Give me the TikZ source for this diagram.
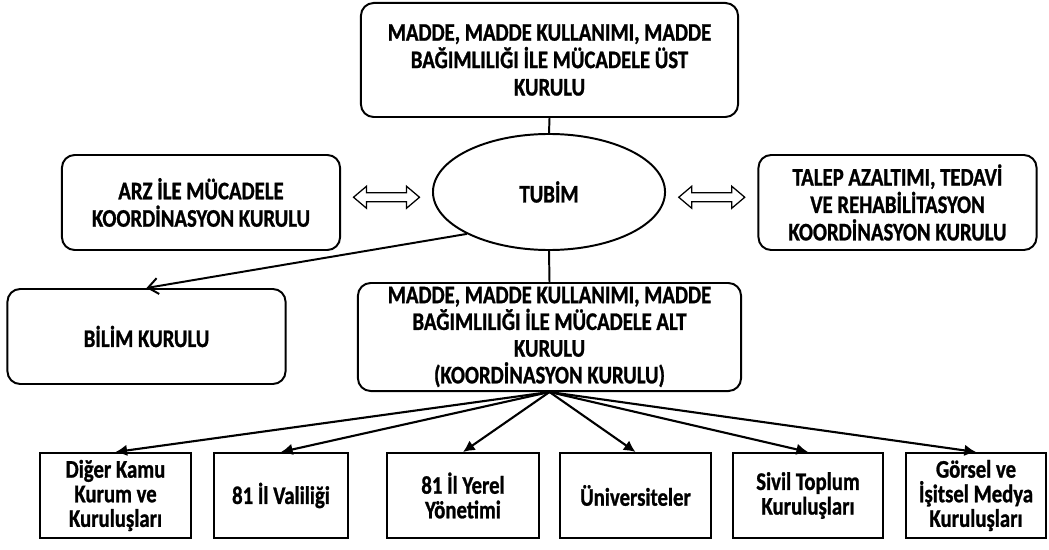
\documentclass[tikz,border=0pt]{standalone}
\usepackage{fontspec}
\setmainfont{Carlito}[FakeStretch=0.82, BoldFeatures={FakeBold=1}]
\usepackage{tikz}
\usetikzlibrary{shapes.geometric, arrows.meta, positioning, calc}
\tikzset{
	kurul/.style  ={rectangle, rounded corners=9pt, draw=black, line width=1.4pt, align=center, inner sep=2pt, font=\bfseries\fontsize{18}{19.5}\selectfont, minimum width=6.95cm, minimum height=2.375cm},
	merkez/.style ={ellipse, draw=black, line width=1.4pt, minimum width=5.8cm, minimum height=2.9cm, font=\bfseries\fontsize{18}{19.5}\selectfont},
	birim/.style  ={rectangle, draw=black, line width=1.4pt, align=center, inner sep=2pt, font=\bfseries\fontsize{18}{17.5}\selectfont, minimum height=2.125cm},
	ciftok/.style ={draw=black, line width=0.9pt, fill=white},
	bag/.style    ={line width=1.4pt},
	okbag/.style  ={line width=1.5pt, -{Latex[length=2.9mm, width=2.9mm]}},
	acikok/.style ={line width=1.4pt, -{Straight Barb[length=2.5mm, width=4mm]}},
}
% hollow double arrow around a point
\newcommand{\ciftyon}[1]{%
	\draw[ciftok, shift={#1}] (-33,0) -- (-20,-11) -- (-20,-4.5) -- (20,-4.5) -- (20,-11) -- (33,0)
		-- (20,11) -- (20,4.5) -- (-20,4.5) -- (-20,11) -- cycle;}
\begin{document}
\begin{tikzpicture}[x=0.025cm, y=-0.025cm]
	\useasboundingbox (0,0) rectangle (1049,550);
	% upper level
	\node[kurul, minimum width=9.425cm, minimum height=2.85cm] (ust) at (549.5,60) {MADDE, MADDE KULLANIMI, MADDE\\BAĞIMLILIĞI İLE MÜCADELE ÜST\\KURULU};
	\node[merkez] (tubim) at (549,192) {TUBİM};
	\node[kurul] (arz) at (201,202.5) {ARZ İLE MÜCADELE\\KOORDİNASYON KURULU};
	\node[kurul] (talep) at (897.5,202.5) {TALEP AZALTIMI, TEDAVİ\\VE REHABİLİTASYON\\KOORDİNASYON KURULU};
	\node[kurul] (bilim) at (146.5,336.5) {BİLİM KURULU};
	\node[kurul, minimum width=9.575cm, minimum height=2.7cm, font=\bfseries\fontsize{18}{19}\selectfont] (alt) at (549.5,337) {MADDE, MADDE KULLANIMI, MADDE\\BAĞIMLILIĞI İLE MÜCADELE ALT\\KURULU\\(KOORDİNASYON KURULU)};
	% lower level
	\node[birim, minimum width=3.775cm] (b1) at (115.5,495.5) {Diğer Kamu\\Kurum ve\\Kuruluşları};
	\node[birim, minimum width=3.36cm] (b2) at (281,495.5) {81 İl Valiliği};
	\node[birim, minimum width=3.8cm] (b3) at (463,495.5) {81 İl Yerel\\Yönetimi};
	\node[birim, minimum width=3.775cm] (b4) at (635.5,495.5) {Üniversiteler};
	\node[birim, minimum width=3.75cm] (b5) at (808,495.5) {Sivil Toplum\\Kuruluşları};
	\node[birim, minimum width=3.5cm] (b6) at (976,495.5) {Görsel ve\\İşitsel Medya\\Kuruluşları};
	% connectors
	\draw[bag] (ust.south) -- (tubim.north);
	\draw[bag] (tubim.south) -- (alt.north);
	\coordinate (okarz) at ($(arz.east)!0.5!(tubim.west)$);
	\coordinate (oktalep) at ($(tubim.east)!0.5!(talep.west)$);
	\ciftyon{(okarz)}
	\ciftyon{(oktalep)}
	\draw[acikok] (tubim.207) -- (bilim.north);
	\foreach \b in {b1,b2,b3,b4,b5,b6}
		\draw[okbag] (alt.south) -- (\b.north);
\end{tikzpicture}
\end{document}
